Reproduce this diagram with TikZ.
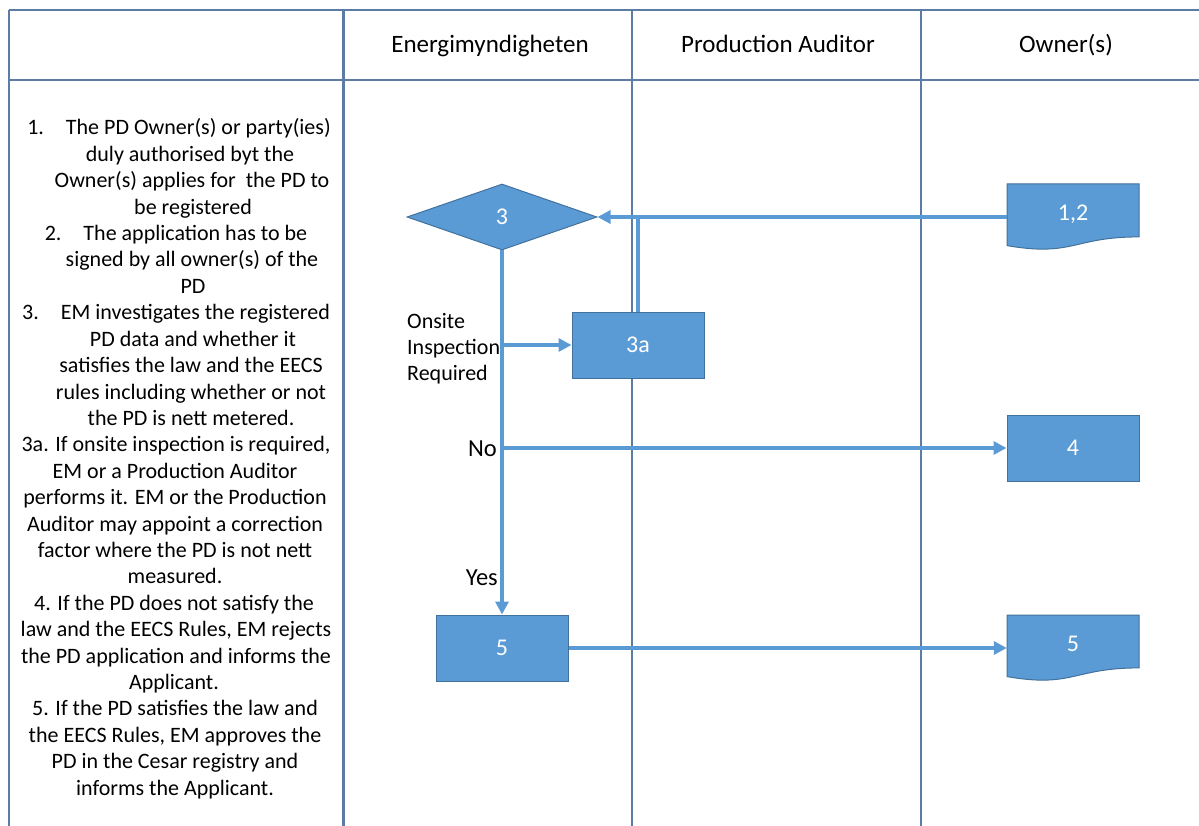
\documentclass[tikz,border=0pt]{standalone}
\usepackage{fontspec}
\setmainfont{Carlito}
\usetikzlibrary{shapes.geometric,arrows.meta,calc}
\definecolor{boxfill}{RGB}{91,155,213}
\definecolor{boxedge}{RGB}{65,113,156}
\definecolor{conn}{RGB}{91,155,213}
\definecolor{gridc}{RGB}{92,124,164}
\newcommand{\flowdoc}[4]{%
  \path[fill=boxfill,draw=boxedge,line width=1pt]
    (#2,#3) -- ++(132,0) -- ++(0,52.9)
    .. controls ++(-66,0) and ($(#2,#3)+(66,73.1)$) .. ($(#2,#3)+(0,61.6)$) -- cycle;
  \node[minimum width=132pt,minimum height=66pt] (#1) at ($(#2,#3)+(66,33)$) {};
  \node[text=white,anchor=base,font=\fontsize{24}{28}\selectfont] at ($(#2,#3)+(66,36.5)$) {#4};
}
\begin{document}
\begin{tikzpicture}[x=1pt,y=-1pt,
  every node/.style={font=\fontsize{22}{26.4}\selectfont, inner sep=0pt},
  gridline/.style={draw=gridc,line width=1.3pt},
  proc/.style={rectangle,draw=boxedge,line width=1pt,fill=boxfill,text=white,
    minimum width=132pt,minimum height=66pt,font=\fontsize{24}{28}\selectfont},
  decide/.style={diamond,draw=boxedge,line width=1pt,fill=boxfill,text=white,
    minimum width=190pt,minimum height=66pt,aspect=2.88,font=\fontsize{24}{28}\selectfont},
  link/.style={draw=conn,line width=3.6pt},
  arrowlink/.style={link,-{Triangle[length=13pt,width=13pt]}},
  laneh/.style={anchor=base,font=\fontsize{25}{30}\selectfont},
  note/.style={anchor=base},
  branch/.style={anchor=east,font=\fontsize{24.5}{29}\selectfont}
]
\useasboundingbox (0,0) rectangle (1199,826);
% table
\draw[gridline] (9,10) -- (1199,10);
\draw[gridline] (9,80) -- (1199,80);
\draw[gridline,line width=2pt] (9,10) -- (9,826);
\draw[gridline,line width=3pt] (343,10) -- (343,826);
\draw[gridline] (632,10) -- (632,826);
\draw[gridline] (921,10) -- (921,826);
% headers
\node[laneh] (h1) at (490,53) {Energimyndigheten};
\node[laneh] (h2) at (778,53) {Production Auditor};
\node[laneh] (h3) at (1066,53) {Owner(s)};
% left text
\foreach \cx/\t [count=\i] in {
  179/{1.\hspace{22pt}The PD Owner(s) or party(ies)},
  190/{duly authorised byt the},
  192/{Owner(s) applies for\ \ the PD to},
  193/{be registered},
  176/{2.\hspace{22pt}The application has to be},
  192/{signed by all owner(s) of the},
  193/{PD},
  176/{3.\hspace{22pt}EM investigates the registered},
  193/{PD data and whether it},
  191/{satisfies the law and the EECS},
  191/{rules including whether or not},
  191/{the PD is nett metered.},
  176/{3a. If onsite inspection is required,},
  175/{EM or a Production Auditor},
  175/{performs it. EM or the Production},
  175/{Auditor may appoint a correction},
  175/{factor where the PD is not nett},
  175/{measured.},
  174/{4. If the PD does not satisfy the},
  176/{law and the EECS Rules, EM rejects},
  176/{the PD application and informs the},
  174/{Applicant.},
  175/{5. If the PD satisfies the law and},
  175/{the EECS Rules, EM approves the},
  175/{PD in the Cesar registry and},
  175/{informs the Applicant.}}
  \node[note] (t\i) at (\cx,{135+(\i-1)*26.4}) {\t};
% shapes
\node[decide] (d3) at (502,217) {3};
\node[proc] (p3a) at (638,345) {3a};
\node[proc] (p4) at (1073,448) {4};
\node[proc] (p5) at (502,648) {5};
\flowdoc{doc12}{1007}{184}{1,2}
\flowdoc{doc5}{1007}{615}{5}
% connectors
\draw[arrowlink] (d3.east -| doc12.west) -- (d3.east);
\draw[link] (p3a.north) -- (p3a.north |- d3.east);
\draw[arrowlink] (d3.south) -- (p5.north);
\draw[arrowlink] (d3.south |- p3a.west) -- (p3a.west);
\draw[arrowlink] (d3.south |- p4.west) -- (p4.west);
\draw[arrowlink] (p5.east) -- (p5.east -| doc5.west);
% labels
\node[anchor=west,align=left,font=\fontsize{22}{26}\selectfont] (lonsite) at (407,349) {Onsite\\Inspection\\Required};
\node[branch] (lno) at (497,449) {No};
\node[branch] (lyes) at (498,578) {Yes};
\end{tikzpicture}
\end{document}
